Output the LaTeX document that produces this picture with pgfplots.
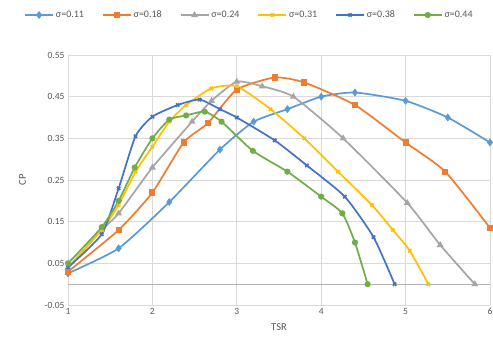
\documentclass[border=0pt]{standalone}
\usepackage{pgfplots}
\pgfplotsset{compat=1.18}
\usepackage{fontspec}
\setmainfont{Carlito}
\definecolor{cA}{HTML}{5B9BD5}
\definecolor{cB}{HTML}{ED7D31}
\definecolor{cC}{HTML}{A5A5A5}
\definecolor{cD}{HTML}{FFC000}
\definecolor{cE}{HTML}{4472C4}
\definecolor{cF}{HTML}{70AD47}
\definecolor{txt}{HTML}{595959}
\definecolor{grd}{HTML}{D9D9D9}
\begin{document}
\begin{tikzpicture}[x=1pt,y=1pt]
\useasboundingbox (-68,-36) rectangle (425,305);
\fill[white] (-68,-36) rectangle (425,305);
\begin{axis}[
  at={(0,0)}, anchor=south west,
  scale only axis, width=422pt, height=250pt,
  xmin=1, xmax=6, ymin=-0.05, ymax=0.55,
  xtick={1,2,3,4,5,6},
  ytick={-0.05,0.05,0.15,0.25,0.35,0.45,0.55},
  yticklabels={-0.05,0.05,0.15,0.25,0.35,0.45,0.55},
  extra y ticks={0}, extra y tick labels={},
  extra y tick style={grid style={draw=black!30, line width=0.8pt}},
  grid=major, grid style={draw=grd, line width=0.6pt},
  axis line style={draw=none},
  tick style={draw=none},
  ticklabel style={font=\fontsize{9.5}{10}\selectfont, text=txt},
  /pgf/number format/assume math mode=true,
  xlabel={TSR}, ylabel={CP},
  label style={font=\fontsize{10.5}{11}\selectfont, text=txt},
  xlabel style={yshift=-2pt},
  ylabel style={yshift=12pt},
  legend columns=6,
  legend style={at={(0.43,1.16)}, anchor=center, draw=none, fill=none,
    font=\fontsize{10}{11}\selectfont, text=txt,
    /tikz/every even column/.append style={column sep=16pt}},
  legend image code/.code={\draw[mark repeat=2,mark phase=2] plot coordinates {(0pt,0pt)(14pt,0pt)(28pt,0pt)};},
  every axis plot/.append style={line width=1.7pt, smooth, tension=0.35, mark size=2.3pt, mark options={solid}},
]
\addplot[cA, mark=diamond*, mark size=2.6pt] coordinates {(1,0.026)(1.6,0.086)(2.2,0.197)(2.8,0.323)(3.2,0.39)(3.6,0.42)(4.0,0.45)(4.4,0.46)(5.0,0.44)(5.5,0.40)(6.0,0.34)};
\addlegendentry{σ=0.11}
\addplot[cB, mark=square*, mark size=2.2pt] coordinates {(1,0.03)(1.6,0.13)(2.0,0.22)(2.37,0.34)(2.66,0.387)(3.0,0.467)(3.45,0.496)(3.8,0.484)(4.4,0.43)(5.0,0.34)(5.47,0.27)(6.0,0.135)};
\addlegendentry{σ=0.18}
\addplot[cC, mark=triangle*] coordinates {(1,0.04)(1.4,0.13)(1.6,0.17)(2.0,0.28)(2.47,0.39)(2.7,0.44)(3.0,0.486)(3.3,0.475)(3.67,0.45)(4.26,0.35)(5.02,0.195)(5.41,0.094)(5.82,0.0)};
\addlegendentry{σ=0.24}
\addplot[cD, mark=x] coordinates {(1,0.04)(1.4,0.13)(1.6,0.19)(1.8,0.27)(2.0,0.33)(2.2,0.39)(2.4,0.43)(2.7,0.47)(3.0,0.475)(3.4,0.42)(3.8,0.35)(4.2,0.27)(4.6,0.19)(4.85,0.13)(5.05,0.08)(5.27,0.0)};
\addlegendentry{σ=0.31}
\addplot[cE, mark=x] coordinates {(1,0.04)(1.4,0.12)(1.6,0.23)(1.8,0.355)(2.0,0.402)(2.3,0.43)(2.56,0.443)(2.8,0.42)(3.0,0.40)(3.45,0.345)(3.83,0.285)(4.28,0.21)(4.62,0.113)(4.87,0.0)};
\addlegendentry{σ=0.38}
\addplot[cF, mark=*, mark size=2.2pt] coordinates {(1,0.05)(1.4,0.137)(1.6,0.2)(1.79,0.28)(2.0,0.35)(2.2,0.395)(2.4,0.405)(2.62,0.414)(2.82,0.39)(3.19,0.32)(3.6,0.27)(4.0,0.21)(4.25,0.17)(4.4,0.1)(4.55,0.0)};
\addlegendentry{σ=0.44}
\end{axis}
\end{tikzpicture}
\end{document}
